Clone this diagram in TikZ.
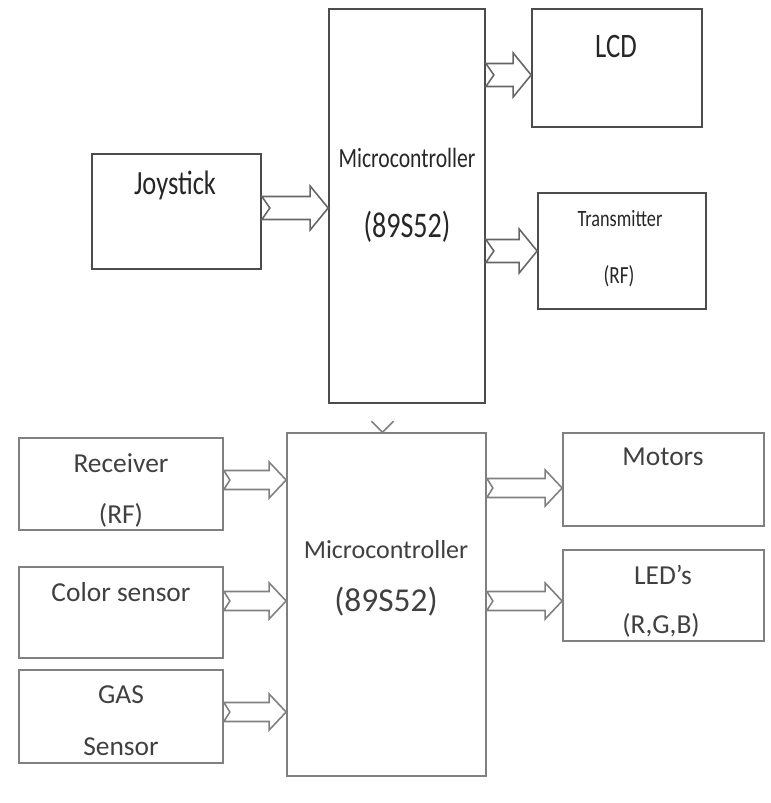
\documentclass[tikz,border=0pt]{standalone}
\usepackage{fontspec}
\setmainfont{Carlito}
\newfontfamily\narrowfont[FakeStretch=0.78]{Carlito}
\usetikzlibrary{calc}
\newcommand{\fsz}[1]{\fontsize{#1}{#1}\selectfont}

\tikzset{
  blk/.style={draw=black!70, line width=1pt, rectangle, inner sep=0pt},
  lowblk/.style={draw=black!50, line width=1pt, rectangle, inner sep=0pt},
  % hollow bus arrow: shaft half width, head half width, head length, tail notch
  bus/.style n args={4}{to path={let \p1=(\tikztostart), \p2=(\tikztotarget) in
    (\x1,\y1+#1) -- (\x2-#3,\y1+#1) -- (\x2-#3,\y1+#2) -- (\x2,\y1)
    -- (\x2-#3,\y1-#2) -- (\x2-#3,\y1-#1) -- (\x1,\y1-#1) -- (\x1+#4,\y1) -- cycle}},
  topbus/.style={bus={0.23cm}{0.44cm}{0.36cm}{0.16cm}, draw=black!60, line width=0.9pt},
  lowbus/.style={bus={0.19cm}{0.36cm}{0.34cm}{0.12cm}, draw=black!50, line width=0.9pt},
  toptxt/.style={text=black!85, inner sep=0pt},
  lowtxt/.style={text=black!75, inner sep=0pt, font=\fsz{15.6}},
}

\begin{document}
\begin{tikzpicture}[x=0.02cm, y=-0.02cm]
  \useasboundingbox (0,0) rectangle (770,803);

  % transmitter side
  \node[blk, minimum width=3.12cm, minimum height=7.88cm] (mc1) at (407,206) {};
  \node[blk, minimum width=3.40cm, minimum height=2.36cm] (lcd) at (617,68) {};
  \node[blk, minimum width=3.38cm, minimum height=2.30cm] (joy) at (176.5,211.5) {};
  \node[blk, minimum width=3.36cm, minimum height=2.32cm] (tx) at (622,251) {};

  \node[toptxt, font=\narrowfont\fsz{19.3}] (joyt) at (175,185) {Joystick};
  \node[toptxt, font=\narrowfont\fsz{19.5}] (lcdt) at (616,47) {LCD};
  \node[toptxt, font=\narrowfont\fsz{15.8}] (mc1t) at (407,158) {Microcontroller};
  \node[toptxt, font=\narrowfont\fsz{20.5}] (mc1n) at (407,227) {(89S52)};
  \node[toptxt, font=\narrowfont\fsz{13.3}] (txt) at (620,219) {Transmitter};
  \node[toptxt, font=\narrowfont\fsz{14}] (txrf) at (619,276) {(RF)};

  \draw[topbus] ([yshift=0.07cm]joy.east) to (mc1.west);
  \draw[topbus] ([yshift=-0.14cm]lcd.west -| mc1.east) to (lcd.west);
  \draw[topbus] (tx.west -| mc1.east) to (tx.west);

  % receiver side
  \node[lowblk, minimum width=3.98cm, minimum height=6.86cm] (mc2) at (386.5,604.5) {};
  \node[lowblk, minimum width=4.08cm, minimum height=1.84cm] (rec) at (121,484) {};
  \node[lowblk, minimum width=4.08cm, minimum height=1.82cm] (col) at (121,612.5) {};
  \node[lowblk, minimum width=4.08cm, minimum height=1.86cm] (gas) at (121,716.5) {};
  \node[lowblk, minimum width=4.02cm, minimum height=1.86cm] (mot) at (663.5,479.5) {};
  \node[lowblk, minimum width=4.02cm, minimum height=1.82cm] (led) at (663.5,595.5) {};

  \node[lowtxt] (rect) at (121,463) {Receiver};
  \node[lowtxt] (recrf) at (121,515) {(RF)};
  \node[lowtxt] (colt) at (121,592) {Color sensor};
  \node[lowtxt] (gast) at (121,695) {GAS};
  \node[lowtxt] (gass) at (121,747) {Sensor};
  \node[lowtxt] (mott) at (663,457) {Motors};
  \node[lowtxt] (ledt) at (663,575) {LED’s};
  \node[lowtxt] (ledc) at (661,625) {(R,G,B)};
  \node[lowtxt, font=\fsz{14.8}] (mc2t) at (386,550) {Microcontroller};
  \node[lowtxt, font=\fsz{19}] (mc2n) at (386,602) {(89S52)};

  \draw[lowbus] ([yshift=0.08cm]rec.east) to (mc2.west);
  \draw[lowbus] ([yshift=0.23cm]col.east) to (mc2.west);
  \draw[lowbus] ([yshift=0.09cm]gas.east) to (mc2.west);
  \draw[lowbus] ([yshift=-0.17cm]mot.west -| mc2.east) to (mot.west);
  \draw[lowbus] ([yshift=-0.11cm]led.west -| mc2.east) to (led.west);

  % link between the two controllers
  \draw[black!50, line width=0.9pt] ([shift={(-0.30cm,0.22cm)}]mc2.north)
    -- ([xshift=-0.08cm]mc2.north) -- ([shift={(0.14cm,0.22cm)}]mc2.north);
\end{tikzpicture}
\end{document}
